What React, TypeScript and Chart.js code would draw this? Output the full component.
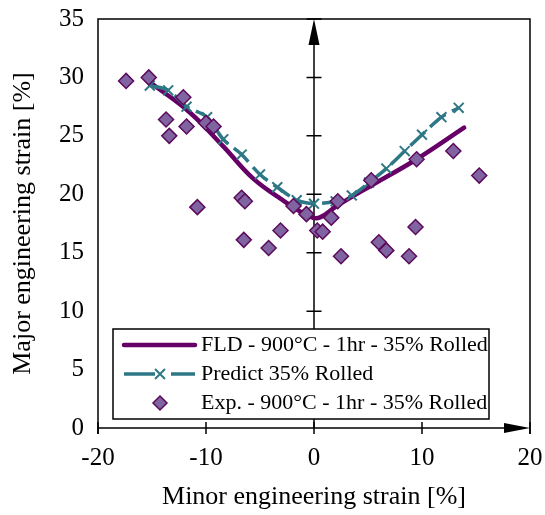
import React, { useEffect, useRef } from "react";
import { Chart, registerables } from "chart.js";

Chart.register(...registerables);

const FONT = '"Liberation Serif", "Times New Roman", serif';

// FLD curve (900°C - 1hr - 35% Rolled)
const fldX = [-14.9, -11.5, -8.4, -5.7, -2.9, -0.4, 0.5, 2.1, 5.4, 9.5, 13.9];
const fldY = [29.4, 27.0, 24.1, 21.4, 19.5, 18.1, 18.0, 19.0, 20.8, 23.0, 25.7];

// Predicted curve (35% Rolled)
const predX = [-15.2, -13.5, -11.8, -9.9, -8.4, -6.7, -5.0, -3.4, -1.6, 0.0, 2.0, 3.5, 5.1, 6.7, 8.4, 10.0, 11.8, 13.4];
const predY = [29.3, 28.9, 27.5, 26.6, 24.7, 23.4, 21.7, 20.6, 19.5, 19.2, 19.4, 19.9, 21.0, 22.2, 23.7, 25.1, 26.6, 27.4];

// Experimental points
const expX = [-17.4, -15.3, -13.7, -13.4, -12.1, -11.8, -10.8, -10.0, -9.3, -6.7, -6.4, -6.5, -4.2, -3.1, -1.9, -0.7, 0.3, 0.8, 1.6, 2.2, 2.5, 5.3, 6.0, 6.7, 8.8, 9.4, 9.5, 12.9, 15.3];
const expY = [29.7, 30.0, 26.4, 25.0, 28.3, 25.8, 18.9, 26.1, 25.8, 19.7, 19.4, 16.1, 15.4, 16.9, 19.0, 18.3, 16.9, 16.8, 18.0, 19.4, 14.7, 21.2, 15.9, 15.2, 14.7, 17.2, 23.0, 23.7, 21.6];

const seriesLabels = [
  "FLD - 900°C - 1hr - 35% Rolled",
  "Predict 35% Rolled",
  "Exp. - 900°C - 1hr - 35% Rolled",
];
const xTitle = "Minor engineering strain [%]";
const yTitle = "Major engineering strain [%]";
const xMin = -20, xMax = 20, xStep = 10;
const yMin = 0, yMax = 35, yStep = 5;

const PURPLE = "#660066";
const TEAL = "#2E7785";
const DIAMOND_FILL = "#8064A2";
const DIAMOND_EDGE = "#5C0A5C";

function drawCross(ctx: CanvasRenderingContext2D, x: number, y: number, r: number) {
  const d = r * Math.SQRT1_2;
  ctx.beginPath();
  ctx.moveTo(x - d, y - d); ctx.lineTo(x + d, y + d);
  ctx.moveTo(x - d, y + d); ctx.lineTo(x + d, y - d);
  ctx.stroke();
}
function drawDiamond(ctx: CanvasRenderingContext2D, x: number, y: number, r: number) {
  ctx.beginPath();
  ctx.moveTo(x, y - r); ctx.lineTo(x + r, y); ctx.lineTo(x, y + r); ctx.lineTo(x - r, y);
  ctx.closePath();
  ctx.fill(); ctx.stroke();
}

const axesPlugin = {
  id: "crossAxes",
  beforeDatasetsDraw(chart: any) {
    const { ctx, chartArea: a, scales } = chart;
    const xs = scales.x, ys = scales.y;
    const x0 = xs.getPixelForValue(0);
    const y0 = ys.getPixelForValue(0);
    ctx.save();
    ctx.strokeStyle = "#000";
    ctx.fillStyle = "#000";
    ctx.lineWidth = 1.5;
    ctx.beginPath();
    ctx.moveTo(a.left, y0 + 6);
    ctx.lineTo(a.left, a.top);
    ctx.lineTo(a.right, a.top);
    ctx.lineTo(a.right, y0 + 6);
    ctx.stroke();
    ctx.beginPath();
    ctx.moveTo(a.left, y0); ctx.lineTo(a.right - 12, y0);
    ctx.stroke();
    ctx.beginPath();
    ctx.moveTo(x0, a.bottom); ctx.lineTo(x0, a.top + 12);
    ctx.stroke();
    ctx.beginPath();
    xs.ticks.forEach((t: any) => {
      const px = xs.getPixelForValue(t.value);
      ctx.moveTo(px, y0 - 6); ctx.lineTo(px, y0 + 6);
    });
    ys.ticks.forEach((t: any) => {
      if (t.value === 0) return;
      const py = ys.getPixelForValue(t.value);
      ctx.moveTo(x0 - 7.5, py); ctx.lineTo(x0 + 7.5, py);
    });
    ctx.stroke();
    ctx.beginPath();
    ctx.moveTo(x0, a.top); ctx.lineTo(x0 - 5.5, a.top + 26); ctx.lineTo(x0 + 5.5, a.top + 26);
    ctx.closePath(); ctx.fill();
    ctx.beginPath();
    ctx.moveTo(a.right, y0); ctx.lineTo(a.right - 26, y0 - 5); ctx.lineTo(a.right - 26, y0 + 5);
    ctx.closePath(); ctx.fill();
    ctx.restore();
  },
};

const legendPlugin = {
  id: "boxLegend",
  afterDraw(chart: any) {
    const { ctx, chartArea: a } = chart;
    const labels = chart.data.datasets.map((d: any) => d.label);
    const bx = a.left + 15, by = a.bottom - 99, bw = 376, bh = 90;
    ctx.save();
    ctx.fillStyle = "#fff";
    ctx.fillRect(bx, by, bw, bh);
    ctx.strokeStyle = "#000";
    ctx.lineWidth = 1.5;
    ctx.strokeRect(bx, by, bw, bh);
    const rows = [by + 16, by + 45, by + 74];
    const sx0 = bx + 11, sx1 = bx + 82, mid = bx + 47;
    ctx.strokeStyle = PURPLE; ctx.lineWidth = 4.5; ctx.lineCap = "round";
    ctx.beginPath(); ctx.moveTo(sx0, rows[0]); ctx.lineTo(sx1, rows[0]); ctx.stroke();
    ctx.strokeStyle = TEAL; ctx.lineWidth = 3.5; ctx.lineCap = "butt";
    ctx.beginPath();
    ctx.moveTo(sx0, rows[1]); ctx.lineTo(mid - 5, rows[1]);
    ctx.moveTo(mid + 11, rows[1]); ctx.lineTo(sx1, rows[1]);
    ctx.stroke();
    ctx.lineWidth = 2;
    drawCross(ctx, mid, rows[1], 7);
    ctx.fillStyle = DIAMOND_FILL; ctx.strokeStyle = DIAMOND_EDGE; ctx.lineWidth = 1.5;
    drawDiamond(ctx, mid, rows[2], 7);
    ctx.fillStyle = "#000";
    ctx.font = `22px ${FONT}`;
    ctx.textBaseline = "middle";
    ctx.textAlign = "left";
    labels.forEach((l: string, i: number) => ctx.fillText(l, bx + 88, rows[i]));
    ctx.restore();
  },
};

function zeroPadding(s: any) {
  s.paddingTop = 0; s.paddingBottom = 0; s.paddingLeft = 0; s.paddingRight = 0;
}

export default function App() {
  const ref = useRef<HTMLCanvasElement | null>(null);
  useEffect(() => {
    if (!ref.current) return;
    const chart = new Chart(ref.current, {
      type: "scatter",
      data: {
        datasets: [
          {
            label: seriesLabels[0],
            data: fldX.map((x, i) => ({ x, y: fldY[i] })),
            showLine: true,
            borderColor: PURPLE,
            backgroundColor: PURPLE,
            borderWidth: 4.5,
            borderCapStyle: "round",
            pointRadius: 0,
            tension: 0.4,
            order: 2,
          } as any,
          {
            label: seriesLabels[1],
            data: predX.map((x, i) => ({ x, y: predY[i] })),
            showLine: true,
            borderColor: TEAL,
            backgroundColor: TEAL,
            borderWidth: 3.5,
            borderDash: [20, 7],
            pointStyle: "crossRot",
            pointRadius: 7,
            pointBorderWidth: 2,
            pointBorderColor: TEAL,
            tension: 0.3,
            order: 1,
          } as any,
          {
            label: seriesLabels[2],
            data: expX.map((x, i) => ({ x, y: expY[i] })),
            showLine: false,
            pointStyle: "rectRot",
            pointRadius: 7.5,
            pointBackgroundColor: DIAMOND_FILL,
            pointBorderColor: DIAMOND_EDGE,
            pointBorderWidth: 1.5,
            order: 0,
          } as any,
        ],
      },
      options: {
        responsive: false,
        animation: false,
        events: [],
        layout: { padding: { left: 0, top: 19, right: 15, bottom: 0 } },
        plugins: { legend: { display: false }, tooltip: { enabled: false } },
        scales: {
          x: {
            type: "linear",
            min: xMin,
            max: xMax,
            grid: { display: false, drawTicks: false, tickLength: 0 },
            border: { display: false },
            ticks: { stepSize: xStep, color: "#000", font: { family: FONT, size: 25 }, padding: 15 },
            title: { display: true, text: xTitle, color: "#000", font: { family: FONT, size: 26 }, padding: { top: 0, bottom: 2 } },
            afterFit: (s: any) => { s.height = 87; zeroPadding(s); },
          },
          y: {
            type: "linear",
            min: yMin,
            max: yMax,
            grid: { display: false, drawTicks: false, tickLength: 0 },
            border: { display: false },
            ticks: { stepSize: yStep, color: "#000", font: { family: FONT, size: 25 }, padding: 14 },
            title: { display: true, text: yTitle, color: "#000", font: { family: FONT, size: 26 }, padding: { top: 8, bottom: 0 } },
            afterFit: (s: any) => { s.width = 98; zeroPadding(s); },
          },
        },
      } as any,
      plugins: [axesPlugin, legendPlugin],
    });
    return () => chart.destroy();
  }, []);
  return (
    <canvas
      ref={ref}
      width={545}
      height={515}
      style={{ position: "fixed", left: 0, top: 0, width: 545, height: 515 }}
    />
  );
}
